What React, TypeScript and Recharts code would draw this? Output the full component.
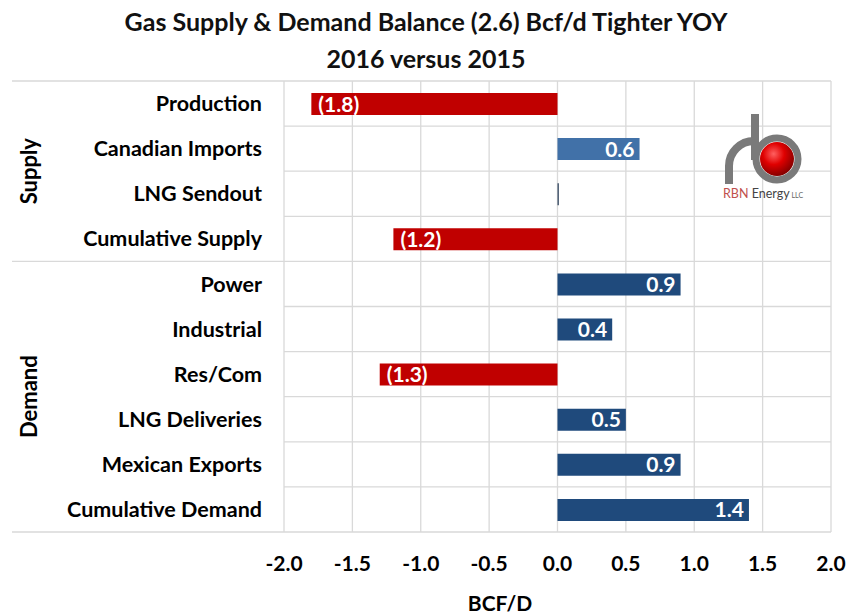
import React from 'react';
import { BarChart, Bar, Cell, XAxis, YAxis, CartesianGrid, LabelList } from 'recharts';

const categories = [
  'Production',
  'Canadian Imports',
  'LNG Sendout',
  'Cumulative Supply',
  'Power',
  'Industrial',
  'Res/Com',
  'LNG Deliveries',
  'Mexican Exports',
  'Cumulative Demand',
];
const groups = ['Supply', 'Supply', 'Supply', 'Supply', 'Demand', 'Demand', 'Demand', 'Demand', 'Demand', 'Demand'];
const values = [-1.8, 0.6, 0.01, -1.2, 0.9, 0.4, -1.3, 0.5, 0.9, 1.4];
const xTicks = [-2, -1.5, -1, -0.5, 0, 0.5, 1, 1.5, 2];

const FONT = 'Lato, "Open Sans", sans-serif';
const RED = '#C00000';
const SUPPLY_BLUE = '#4171A8';
const DEMAND_BLUE = '#1F4A7C';
const GRID = '#D9D9D9';

const W = 849;
const H = 615;
const PLOT_TOP = 81;
const PLOT_BOTTOM = 532;
const PLOT_LEFT = 284;
const PLOT_RIGHT = 831;

const data = categories.map((name, i) => ({ name, group: groups[i], value: values[i] }));

function barColor(d: { group: string; value: number }) {
  if (d.value < 0) return RED;
  if (Math.abs(d.value) < 0.05) return '#3B4E66';
  return d.group === 'Supply' ? SUPPLY_BLUE : DEMAND_BLUE;
}

const fmt = (v: number) => (v < 0 ? `(${Math.abs(v).toFixed(1)})` : v.toFixed(1));

// value label sits inside the bar, at its far end
function BarLabel(props: any) {
  const { x, y, width, height, value } = props;
  if (Math.abs(value) < 0.05) return null;
  const left = Math.min(x, x + width);
  const right = Math.max(x, x + width);
  const neg = value < 0;
  return (
    <text
      x={neg ? left + 7 : right - 5}
      y={y + height / 2}
      dy="0.36em"
      textAnchor={neg ? 'start' : 'end'}
      fill="#fff"
      fontFamily={FONT}
      fontWeight={700}
      fontSize={21}
    >
      {fmt(value)}
    </text>
  );
}

function Logo() {
  return (
    <g>
      <defs>
        <radialGradient id="ball" cx="40%" cy="35%" r="70%">
          <stop offset="0%" stopColor="#ff6060" />
          <stop offset="45%" stopColor="#e00000" />
          <stop offset="100%" stopColor="#7a0000" />
        </radialGradient>
      </defs>
      <circle cx={777} cy={159} r={17} fill="url(#ball)" />
      <circle cx={777} cy={159} r={21} fill="none" stroke="#7a7a7a" strokeWidth={7} />
      <path d="M755 114 L755 160" stroke="#7a7a7a" strokeWidth={8} fill="none" />
      <path d="M729 184 L729 166 A25 25 0 0 1 754 141" stroke="#7a7a7a" strokeWidth={8} fill="none" />
      <text x={723} y={198} fontFamily={FONT} fontSize={12.5}>
        <tspan fill="#C0504D">RBN</tspan>
        <tspan fill="#444"> Energy</tspan>
        <tspan fill="#666" fontSize={7}> LLC</tspan>
      </text>
    </g>
  );
}

export default function App() {
  const rowH = (PLOT_BOTTOM - PLOT_TOP) / categories.length;
  const supplyRows = groups.filter((g) => g === 'Supply').length;
  const splitY = PLOT_TOP + supplyRows * rowH;

  return (
    <div style={{ position: 'absolute', left: 0, top: 0, width: W, height: H, background: '#fff' }}>
      <BarChart
        width={W}
        height={H}
        data={data}
        layout="vertical"
        margin={{ top: PLOT_TOP, right: W - PLOT_RIGHT, bottom: 23, left: 24 }}
      >
        <CartesianGrid
          stroke={GRID}
          strokeWidth={1.3}
          horizontalCoordinatesGenerator={({ offset }: any) =>
            Array.from({ length: categories.length + 1 }, (_, i) => offset.top + (i * offset.height) / categories.length)
          }
        />
        <XAxis
          type="number"
          domain={[-2, 2]}
          ticks={xTicks}
          tickFormatter={(v: number) => v.toFixed(1)}
          axisLine={false}
          tickLine={false}
          tickMargin={18}
          height={60}
          tick={{ fill: '#000', fontFamily: FONT, fontWeight: 700, fontSize: 21 }}
        />
        <YAxis
          type="category"
          dataKey="name"
          width={260}
          axisLine={false}
          tickLine={false}
          tickMargin={16}
          interval={0}
          tick={{ fill: '#000', fontFamily: FONT, fontWeight: 700, fontSize: 21.5 }}
        />
        <Bar dataKey="value" barSize={22} isAnimationActive={false}>
          {data.map((d, i) => (
            <Cell key={`c-${i}`} fill={barColor(d)} />
          ))}
          <LabelList dataKey="value" content={BarLabel} />
        </Bar>
      </BarChart>

      {/* titles, group labels, left separators, axis title, logo */}
      <svg width={W} height={H} style={{ position: 'absolute', left: 0, top: 0, pointerEvents: 'none' }}>
        <text x={426} y={31} textAnchor="middle" fontFamily={FONT} fontWeight={700} fontSize={25} fill="#111">
          Gas Supply &amp; Demand Balance (2.6) Bcf/d Tighter YOY
        </text>
        <text x={426} y={68} textAnchor="middle" fontFamily={FONT} fontWeight={700} fontSize={25} fill="#111">
          2016 versus 2015
        </text>

        {[PLOT_TOP, splitY, PLOT_BOTTOM].map((y, i) => (
          <line key={i} x1={12} x2={PLOT_LEFT} y1={y} y2={y} stroke={GRID} strokeWidth={1.3} />
        ))}

        <text
          transform={`translate(29, ${(PLOT_TOP + splitY) / 2}) rotate(-90)`}
          textAnchor="middle"
          dy="0.36em"
          fontFamily={FONT}
          fontWeight={700}
          fontSize={22}
          fill="#000"
        >
          Supply
        </text>
        <text
          transform={`translate(29, ${(splitY + PLOT_BOTTOM) / 2}) rotate(-90)`}
          textAnchor="middle"
          dy="0.36em"
          fontFamily={FONT}
          fontWeight={700}
          fontSize={22}
          fill="#000"
        >
          Demand
        </text>

        <text x={500} y={611} textAnchor="middle" fontFamily={FONT} fontWeight={700} fontSize={21} fill="#000">
          BCF/D
        </text>

        <Logo />
      </svg>
    </div>
  );
}
